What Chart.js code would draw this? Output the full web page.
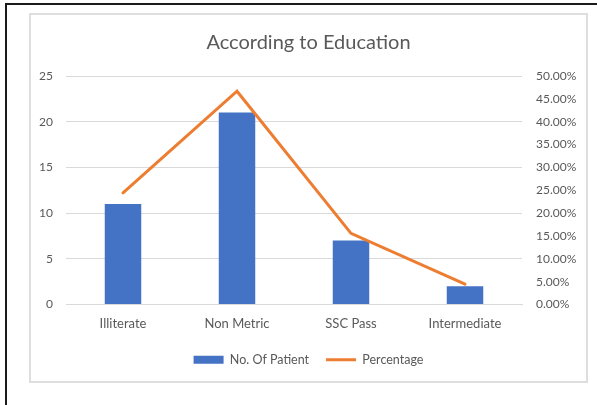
<!DOCTYPE html>
<html>
<head>
<meta charset="utf-8">
<script src="https://cdn.jsdelivr.net/npm/chart.js@4/dist/chart.umd.min.js"></script>
<style>
  html, body { margin: 0; padding: 0; background: #fff; }
  body { width: 597px; height: 405px; position: relative; overflow: hidden; }
  #frame { position: absolute; left: 5px; top: 3px; width: 600px; height: 410px;
           border-left: 2px solid #1a1a1a; border-top: 2px solid #1a1a1a; }
  #box { position: absolute; left: 29px; top: 13px; width: 555px; height: 366px;
         border: 2px solid #dedede; background: #fff; }
  #box canvas { display: block; }
</style>
</head>
<body>
<div id="frame"></div>
<div id="box"><canvas id="c" width="555" height="366"></canvas></div>
<script>
// Patients grouped by level of education
const categories = ['Illiterate', 'Non Metric', 'SSC Pass', 'Intermediate'];
const patients = [11, 21, 7, 2];
const percentage = [24.44, 46.67, 15.56, 4.44];   // percent of all patients
const countTicks = [0, 5, 10, 15, 20, 25];
const percentTicks = [0, 5, 10, 15, 20, 25, 30, 35, 40, 45, 50];

const BLUE = '#4472C4';
const ORANGE = '#ED7D31';
const TEXT = '#595959';
const GRID = '#d9d9d9';
const FONT = 'Lato, "Open Sans", sans-serif';

new Chart(document.getElementById('c'), {
  data: {
    labels: categories,
    datasets: [
      {
        type: 'bar',
        label: 'No. Of Patient',
        data: patients,
        backgroundColor: BLUE,
        yAxisID: 'y',
        barPercentage: 0.32,
        categoryPercentage: 1,
        order: 1
      },
      {
        type: 'line',
        label: 'Percentage',
        data: percentage,
        borderColor: ORANGE,
        backgroundColor: ORANGE,
        borderWidth: 3,
        pointRadius: 0,
        tension: 0,
        borderCapStyle: 'round',
        yAxisID: 'y1',
        order: 0
      }
    ]
  },
  options: {
    responsive: false,
    animation: false,
    layout: { padding: { left: 0, right: 0, top: 0, bottom: 5 } },
    plugins: {
      tooltip: { enabled: false },
      title: {
        display: true,
        text: 'According to Education',
        color: TEXT,
        font: { family: FONT, size: 20, weight: 'normal', lineHeight: 1.2 },
        padding: { top: 16, bottom: 21 }
      },
      legend: {
        position: 'bottom',
        labels: {
          color: TEXT,
          font: { family: FONT, size: 12.5 },
          usePointStyle: true,
          pointStyleWidth: 30,
          boxHeight: 8,
          padding: 17,
          generateLabels: (chart) => chart.data.datasets.map((ds, i) => ({
            text: ds.label,
            fillStyle: ds.type === 'bar' ? BLUE : ORANGE,
            strokeStyle: ds.type === 'bar' ? BLUE : ORANGE,
            lineWidth: ds.type === 'bar' ? 0 : 3,
            pointStyle: ds.type === 'bar' ? 'rect' : 'line',
            fontColor: TEXT,
            hidden: false,
            datasetIndex: i
          }))
        }
      }
    },
    scales: {
      x: {
        grid: { display: false, drawTicks: false },
        border: { display: true, color: GRID, width: 1 },
        ticks: { color: TEXT, font: { family: FONT, size: 13 }, padding: 12, maxRotation: 0 },
        afterFit: (s) => { s.height = 32; }
      },
      y: {
        position: 'left',
        min: 0,
        max: 25,
        afterBuildTicks: (s) => { s.ticks = countTicks.map(v => ({ value: v })); },
        grid: { color: GRID, drawTicks: false },
        border: { display: false },
        ticks: { color: TEXT, font: { family: FONT, size: 12 }, padding: 13 },
        afterFit: (s) => { s.width = 35; }
      },
      y1: {
        position: 'right',
        min: 0,
        max: 50,
        afterBuildTicks: (s) => { s.ticks = percentTicks.map(v => ({ value: v })); },
        grid: { display: false, drawTicks: false },
        border: { display: false },
        ticks: {
          color: TEXT,
          font: { family: FONT, size: 12 },
          padding: 14,
          callback: (v) => Number(v).toFixed(2) + '%'
        },
        afterFit: (s) => { s.width = 64; }
      }
    }
  }
});
</script>
</body>
</html>
